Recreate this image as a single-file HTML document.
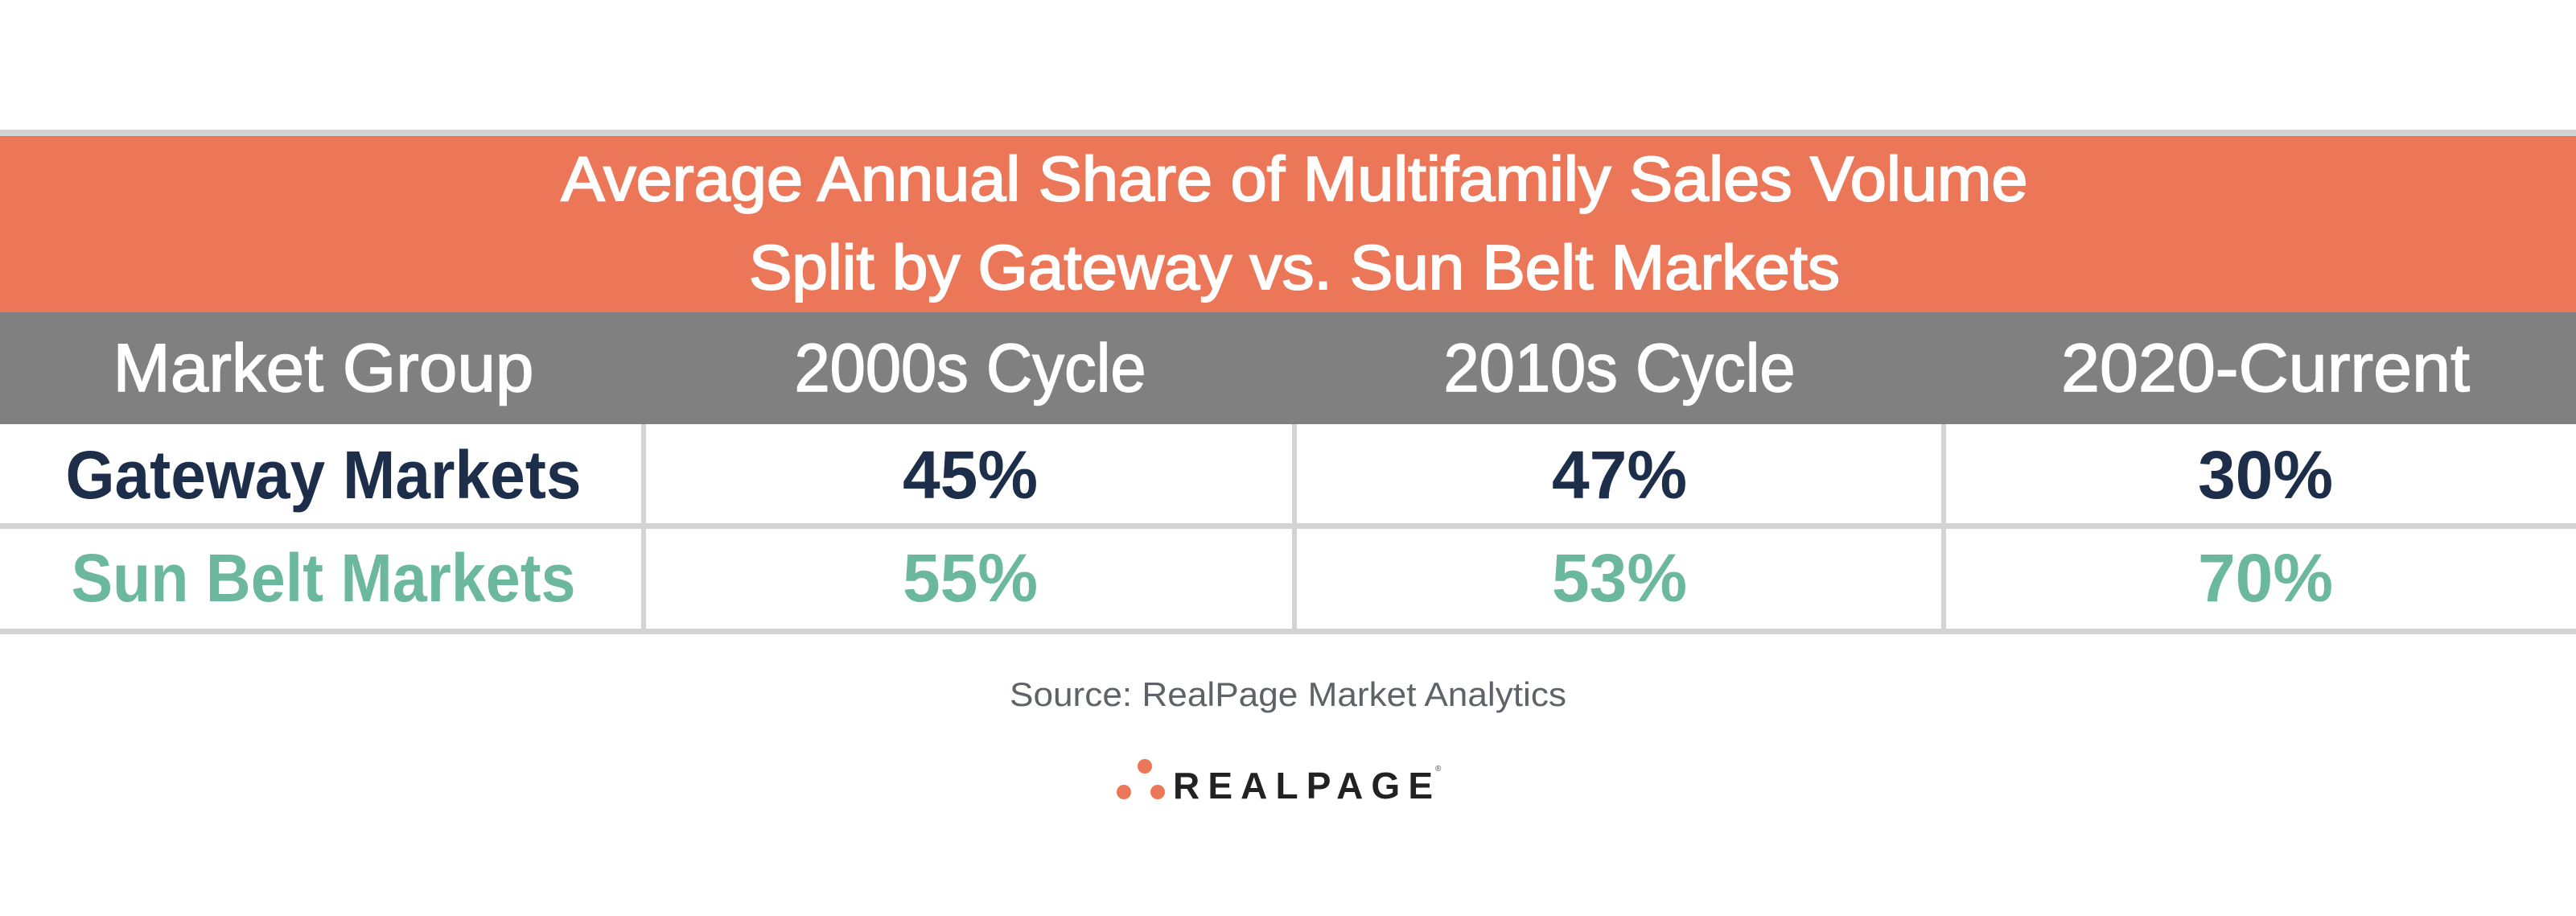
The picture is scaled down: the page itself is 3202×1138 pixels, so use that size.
<!DOCTYPE html>
<html><head><meta charset="utf-8"><style>
html,body{margin:0;padding:0;background:#fff;}
svg{display:block;}
</style></head><body>
<svg width="3202" height="1138" viewBox="0 0 3202 1138" xmlns="http://www.w3.org/2000/svg" font-family="'Liberation Sans', sans-serif">
<rect x="0" y="0" width="3202" height="1138" fill="#fff"/>
<rect x="0" y="161" width="3202" height="8" fill="#d3d3d3"/>
<rect x="0" y="169" width="3202" height="219" fill="#ec7758"/>
<rect x="0" y="388" width="3202" height="139" fill="#808080"/>
<rect x="0" y="650" width="3202" height="7" fill="#d3d3d3"/>
<rect x="0" y="781" width="3202" height="7" fill="#d3d3d3"/>
<rect x="797" y="527" width="6" height="261" fill="#d3d3d3"/>
<rect x="1606" y="527" width="6" height="261" fill="#d3d3d3"/>
<rect x="2413" y="527" width="6" height="261" fill="#d3d3d3"/>
<g fill="#fff" stroke="#fff" stroke-width="2" font-size="78" text-anchor="middle">
<text x="1609" y="249" textLength="1823" lengthAdjust="spacingAndGlyphs">Average Annual Share of Multifamily Sales Volume</text>
<text x="1609" y="359" textLength="1356" lengthAdjust="spacingAndGlyphs">Split by Gateway vs. Sun Belt Markets</text>
</g>
<g fill="#fff" stroke="#fff" stroke-width="1.5" font-size="84" text-anchor="middle">
<text x="402" y="486" textLength="523" lengthAdjust="spacingAndGlyphs">Market Group</text>
<text x="1206" y="486" textLength="437" lengthAdjust="spacingAndGlyphs">2000s Cycle</text>
<text x="2013" y="486" textLength="437" lengthAdjust="spacingAndGlyphs">2010s Cycle</text>
<text x="2816" y="486" textLength="508" lengthAdjust="spacingAndGlyphs">2020-Current</text>
</g>
<g fill="#1c2e4a" font-size="84" font-weight="bold" text-anchor="middle">
<text x="402" y="619" textLength="641" lengthAdjust="spacingAndGlyphs">Gateway Markets</text>
<text x="1206" y="619">45%</text>
<text x="2013" y="619">47%</text>
<text x="2816" y="619">30%</text>
</g>
<g fill="#6bb89e" font-size="84" font-weight="bold" text-anchor="middle">
<text x="402" y="747" textLength="627" lengthAdjust="spacingAndGlyphs">Sun Belt Markets</text>
<text x="1206" y="747">55%</text>
<text x="2013" y="747">53%</text>
<text x="2816" y="747">70%</text>
</g>
<text x="1601" y="877" fill="#5f6368" font-size="42" text-anchor="middle" textLength="692" lengthAdjust="spacingAndGlyphs">Source: RealPage Market Analytics</text>
<circle cx="1423" cy="952" r="9" fill="#ec7758"/>
<circle cx="1397" cy="984" r="9" fill="#ec7758"/>
<circle cx="1439" cy="984" r="9" fill="#ec7758"/>
<text x="1458" y="992" fill="#222" font-size="46" font-weight="bold" textLength="323" lengthAdjust="spacing">REALPAGE</text>
<text x="1784" y="958" fill="#444" font-size="10">®</text>
</svg>
</body></html>
